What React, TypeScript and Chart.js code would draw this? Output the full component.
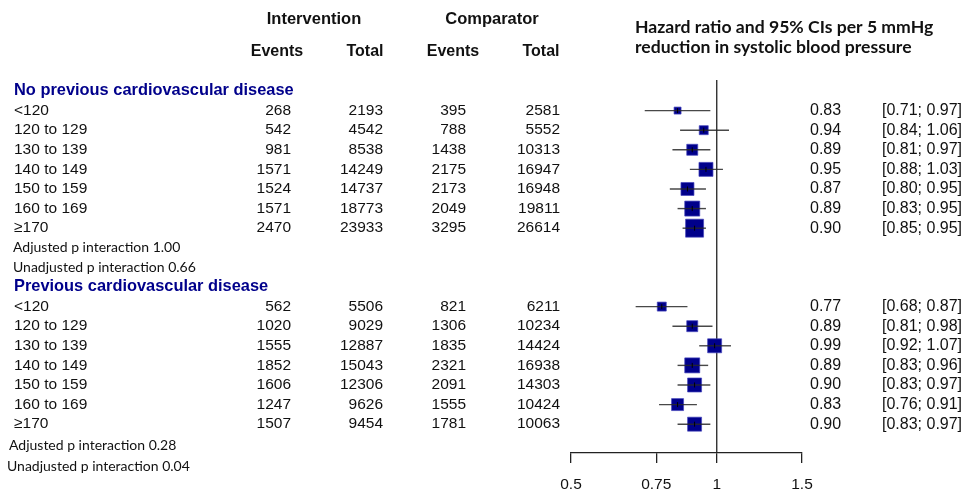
import React, { useEffect, useRef } from "react";
import { Chart, registerables } from "chart.js";

Chart.register(...registerables);

// ---------- data ----------
const subgroups = ["<120", "120 to 129", "130 to 139", "140 to 149", "150 to 159", "160 to 169", "≥170"];

const groupNames = ["No previous cardiovascular disease", "Previous cardiovascular disease"];

const noCvdIntEvents = [268, 542, 981, 1571, 1524, 1571, 2470];
const noCvdIntTotal = [2193, 4542, 8538, 14249, 14737, 18773, 23933];
const noCvdCompEvents = [395, 788, 1438, 2175, 2173, 2049, 3295];
const noCvdCompTotal = [2581, 5552, 10313, 16947, 16948, 19811, 26614];
const noCvdHR = [0.83, 0.94, 0.89, 0.95, 0.87, 0.89, 0.9];
const noCvdLower = [0.71, 0.84, 0.81, 0.88, 0.8, 0.83, 0.85];
const noCvdUpper = [0.97, 1.06, 0.97, 1.03, 0.95, 0.95, 0.95];
const noCvdWeight = [7, 9, 11, 14, 13, 15, 18];

const cvdIntEvents = [562, 1020, 1555, 1852, 1606, 1247, 1507];
const cvdIntTotal = [5506, 9029, 12887, 15043, 12306, 9626, 9454];
const cvdCompEvents = [821, 1306, 1835, 2321, 2091, 1555, 1781];
const cvdCompTotal = [6211, 10234, 14424, 16938, 14303, 10424, 10063];
const cvdHR = [0.77, 0.89, 0.99, 0.89, 0.9, 0.83, 0.9];
const cvdLower = [0.68, 0.81, 0.92, 0.83, 0.83, 0.76, 0.83];
const cvdUpper = [0.87, 0.98, 1.07, 0.96, 0.97, 0.91, 0.97];
const cvdWeight = [9, 11, 14, 15, 14, 12, 14];

const pInteraction = [
  ["Adjusted p interaction 1.00", "Unadjusted p interaction 0.66"],
  ["Adjusted p interaction 0.28", "Unadjusted p interaction 0.04"],
];

const xTicks = [0.5, 0.75, 1, 1.5];
const xTickLabels = ["0.5", "0.75", "1", "1.5"];

const columnHeaders = ["Events", "Total", "Events", "Total"];
const armHeaders = ["Intervention", "Comparator"];
const plotTitle = ["Hazard ratio and 95% CIs per 5 mmHg", "reduction in systolic blood pressure"];

// ---------- build rows ----------
type Row = {
  r: number;
  label: string;
  cells: number[];
  hr: number;
  lo: number;
  hi: number;
  w: number;
};

const groups = [
  { ie: noCvdIntEvents, it: noCvdIntTotal, ce: noCvdCompEvents, ct: noCvdCompTotal, hr: noCvdHR, lo: noCvdLower, hi: noCvdUpper, w: noCvdWeight },
  { ie: cvdIntEvents, it: cvdIntTotal, ce: cvdCompEvents, ct: cvdCompTotal, hr: cvdHR, lo: cvdLower, hi: cvdUpper, w: cvdWeight },
];

const rows: Row[] = [];
const headerRows: number[] = [];
const pRows: number[][] = [];
groups.forEach((g, gi) => {
  const base = gi * 10;
  headerRows.push(base);
  subgroups.forEach((s, i) => {
    rows.push({ r: base + 1 + i, label: s, cells: [g.ie[i], g.it[i], g.ce[i], g.ct[i]], hr: g.hr[i], lo: g.lo[i], hi: g.hi[i], w: g.w[i] });
  });
  pRows.push([base + 8, base + 9]);
});

const NAVY = "#00008B";
const ARIAL = "'Liberation Sans', Arial, sans-serif";
const HUMAN = "Lato, 'Open Sans', sans-serif";

const tablePlugin = {
  id: "forestTable",
  beforeDatasetsDraw(chart: any) {
    const { ctx, chartArea, scales } = chart;
    const x1 = scales.x.getPixelForValue(1);
    ctx.save();
    ctx.strokeStyle = "#222";
    ctx.lineWidth = 1.3;
    ctx.beginPath();
    ctx.moveTo(x1, chartArea.top);
    ctx.lineTo(x1, chartArea.bottom);
    ctx.stroke();
    ctx.restore();
  },
  afterDatasetsDraw(chart: any) {
    const { ctx, scales } = chart;
    const xs = scales.x;
    const ys = scales.y;
    ctx.save();
    // CI lines
    rows.forEach((row) => {
      const y = ys.getPixelForValue(row.r);
      ctx.strokeStyle = "rgba(40,40,40,0.85)";
      ctx.lineWidth = 1.4;
      ctx.beginPath();
      ctx.moveTo(xs.getPixelForValue(row.lo), y);
      ctx.lineTo(xs.getPixelForValue(row.hi), y);
      ctx.stroke();
      const xh = xs.getPixelForValue(row.hr);
      ctx.strokeStyle = "#000";
      ctx.lineWidth = 1;
      ctx.beginPath();
      ctx.moveTo(xh, y - 2.5);
      ctx.lineTo(xh, y + 2.5);
      ctx.stroke();
    });

    // column headers
    ctx.fillStyle = "#111";
    ctx.textBaseline = "middle";
    ctx.textAlign = "center";
    ctx.font = `bold 16.5px ${ARIAL}`;
    const armX = [314, 492];
    armHeaders.forEach((t, i) => ctx.fillText(t, armX[i], 19));
    ctx.font = `bold 16px ${ARIAL}`;
    const colHeadX = [277, 365, 453, 541];
    columnHeaders.forEach((t, i) => ctx.fillText(t, colHeadX[i], 52));

    // plot title
    ctx.textAlign = "left";
    ctx.font = `bold 17.6px ${HUMAN}`;
    ctx.fillText(plotTitle[0], 635, 27);
    ctx.fillText(plotTitle[1], 635, 47);

    // group headers
    ctx.font = `bold 16.4px ${ARIAL}`;
    ctx.fillStyle = NAVY;
    headerRows.forEach((r, i) => ctx.fillText(groupNames[i], 14, ys.getPixelForValue(r)));

    // rows
    const colX = [291, 383, 466, 560];
    rows.forEach((row) => {
      const y = ys.getPixelForValue(row.r);
      ctx.fillStyle = "#111";
      ctx.font = `15.5px ${ARIAL}`;
      ctx.textAlign = "left";
      ctx.fillText(row.label, 14, y);
      ctx.textAlign = "right";
      row.cells.forEach((v, i) => ctx.fillText(String(v), colX[i], y));
      ctx.textAlign = "left";
      ctx.font = `16px ${ARIAL}`;
      ctx.fillText(row.hr.toFixed(2), 810, y);
      ctx.fillText(`[${row.lo.toFixed(2)}; ${row.hi.toFixed(2)}]`, 882, y);
    });

    // p interaction
    ctx.font = `14px ${HUMAN}`;
    ctx.fillStyle = "#111";
    ctx.textAlign = "left";
    pRows.forEach((pr, gi) => {
      pr.forEach((r, k) => {
        const y = ys.getPixelForValue(r) + (gi === 1 ? 1.5 + k * 1.5 : 0);
        ctx.fillText(pInteraction[gi][k], gi === 1 ? 9 - k * 2 : 13, y);
      });
    });
    ctx.restore();
  },
};

export default function App() {
  const ref = useRef<HTMLCanvasElement | null>(null);
  useEffect(() => {
    if (!ref.current) return;
    const chart = new Chart(ref.current, {
      type: "scatter",
      data: {
        datasets: [
          {
            data: rows.map((row) => ({ x: row.hr, y: row.r })),
            pointStyle: "rect",
            pointRadius: rows.map((row) => row.w / Math.SQRT2),
            pointHoverRadius: rows.map((row) => row.w / Math.SQRT2),
            backgroundColor: NAVY,
            borderColor: "rgba(70,70,190,0.7)",
            borderWidth: 1,
          },
        ],
      },
      options: {
        responsive: false,
        animation: false,
        devicePixelRatio: 1,
        layout: { padding: { left: 571, right: 161, top: 80, bottom: 0 } },
        plugins: { legend: { display: false }, tooltip: { enabled: false }, title: { display: false } },
        scales: {
          x: {
            type: "logarithmic",
            min: 0.5,
            max: 1.5,
            afterBuildTicks: (scale: any) => {
              scale.ticks = xTicks.map((v) => ({ value: v }));
            },
            afterFit: (scale: any) => {
              scale.height = 37;
            },
            ticks: {
              autoSkip: false,
              maxRotation: 0,
              padding: 12,
              color: "#111",
              font: { family: ARIAL, size: 15.5 },
              callback: (v: any) => {
                const i = xTicks.indexOf(Number(v));
                return i >= 0 ? xTickLabels[i] : "";
              },
            },
            grid: { drawOnChartArea: false, drawTicks: true, tickLength: 10, color: "#222", lineWidth: 1.3 },
            border: { display: true, color: "#222", width: 1.3 },
          },
          y: {
            type: "linear",
            display: false,
            reverse: true,
            min: -0.56,
            max: 18.47,
          },
        },
      },
      plugins: [tablePlugin],
    });
    return () => chart.destroy();
  }, []);
  return (
    <div style={{ position: "fixed", left: 0, top: 0, width: 963, height: 490, background: "#fff" }}>
      <canvas ref={ref} width={963} height={490} style={{ display: "block" }} />
    </div>
  );
}
